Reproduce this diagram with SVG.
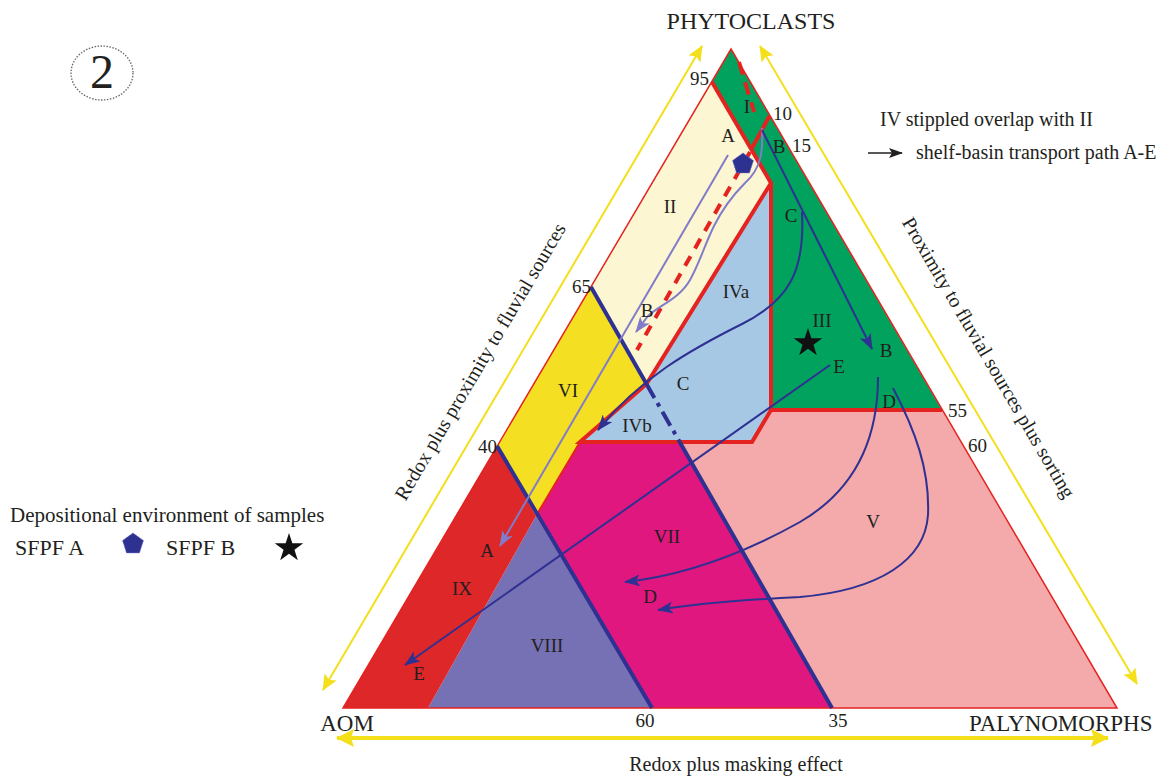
<svg xmlns="http://www.w3.org/2000/svg" width="1164" height="777" viewBox="0 0 1164 777">
<style>
text { font-family: "Liberation Serif", "Times New Roman", serif; fill: #231f20; }
.lbl { font-size: 19px; text-anchor: middle; }
.num { font-size: 19px; }
.ax { font-size: 23px; }
.leg { font-size: 21px; }
.redT { fill: none; stroke: #e42320; stroke-width: 4; stroke-linejoin: miter; }
.redD { fill: none; stroke: #e42320; stroke-width: 4; stroke-dasharray: 11 9; }
.blueT { fill: none; stroke: #2e3192; stroke-width: 4; }
.pth { fill: none; stroke: #2e3192; stroke-width: 2; marker-end: url(#ahB); }
.lpth { fill: none; stroke: #807cc9; stroke-width: 2; marker-end: url(#ahL); }
.yax { fill: none; stroke: #f3df1a; stroke-width: 2; marker-start: url(#ahY); marker-end: url(#ahY); }
.yaxB { fill: none; stroke: #f3df1a; stroke-width: 4; marker-start: url(#ahYB); marker-end: url(#ahYB); }
</style>
<defs>
<marker id="ahB" viewBox="0 0 16 12" refX="15" refY="6" markerWidth="16" markerHeight="12" markerUnits="userSpaceOnUse" orient="auto"><path d="M0,0 L16,6 L0,12 L4,6 Z" fill="#2e3192"/></marker>
<marker id="ahL" viewBox="0 0 16 12" refX="15" refY="6" markerWidth="16" markerHeight="12" markerUnits="userSpaceOnUse" orient="auto"><path d="M0,0 L16,6 L0,12 L4,6 Z" fill="#807cc9"/></marker>
<marker id="ahY" viewBox="0 0 16 14" refX="15" refY="7" markerWidth="16" markerHeight="14" markerUnits="userSpaceOnUse" orient="auto-start-reverse"><path d="M0,0 L16,7 L0,14 L3,7 Z" fill="#f3df1a"/></marker>
<marker id="ahYB" viewBox="0 0 18 18" refX="17" refY="9" markerWidth="18" markerHeight="18" markerUnits="userSpaceOnUse" orient="auto-start-reverse"><path d="M0,0 L18,9 L0,18 L3,9 Z" fill="#f3df1a"/></marker>
<marker id="ahK" viewBox="0 0 14 10" refX="13" refY="5" markerWidth="14" markerHeight="10" markerUnits="userSpaceOnUse" orient="auto"><path d="M0,0 L14,5 L0,10 L3,5 Z" fill="#231f20"/></marker>
<path id="star" d="M0,-15 L3.37,-4.64 L14.27,-4.64 L5.45,1.77 L8.82,12.14 L0,5.73 L-8.82,12.14 L-5.45,1.77 L-14.27,-4.64 L-3.37,-4.64 Z"/>
<path id="penta" d="M0,-11 L10.46,-3.4 L6.47,8.9 L-6.47,8.9 L-10.46,-3.4 Z"/>
</defs>
<rect width="1164" height="777" fill="#ffffff"/>

<g id="badge">
<ellipse cx="102" cy="73" rx="31" ry="27" fill="none" stroke="#666" stroke-width="1.3" stroke-dasharray="1.5 1.5"/>
<text x="102" y="88" style="font-size:48px" text-anchor="middle">2</text>
</g>

<g id="axes">
<line class="yax" x1="323" y1="690" x2="702" y2="46"/>
<line class="yax" x1="760" y1="46" x2="1137" y2="684"/>
<line class="yaxB" x1="337" y1="738" x2="1108" y2="738"/>
<text x="751" y="29" style="font-size:24px" text-anchor="middle">PHYTOCLASTS</text>
<text class="ax" x="347" y="731" text-anchor="middle">AOM</text>
<text class="ax" x="969" y="731">PALYNOMORPHS</text>
<text x="736" y="771" style="font-size:20px" text-anchor="middle">Redox plus masking effect</text>
<text x="486" y="365" style="font-size:20px" text-anchor="middle" transform="rotate(-59.5 486 365)">Redox plus proximity to fluvial sources</text>
<text x="983" y="361" style="font-size:20px" text-anchor="middle" transform="rotate(59.6 983 361)">Proximity to fluvial sources plus sorting</text>
</g>

<g id="region-I-III">
<path d="M731,49 L942,410 L771,410 L771,183 L712,82 Z" fill="#00a25d"/>
<text class="lbl" x="747" y="113">I</text>
<text class="lbl" x="822" y="327">III</text>
<use href="#star" x="808" y="343" fill="#111"/>
</g>
<g id="region-II">
<path d="M712,82 L771,183 L646.5,384 L591,287 Z" fill="#fcf6d3"/>
<text class="lbl" x="670" y="213">II</text>
</g>
<g id="region-IV">
<path d="M771,183 L771,410 L752,442 L580,442 L646.5,384 Z" fill="#a6c8e5"/>
<text class="lbl" x="736" y="298">IVa</text>
<text class="lbl" x="637" y="432">IVb</text>
</g>
<g id="region-VI">
<path d="M591,287 L646.5,384 L580,442 L536,516 L497,446 Z" fill="#f5df22"/>
<text class="lbl" x="568" y="397">VI</text>
</g>
<g id="region-VII">
<path d="M580,442 L679.7,442 L832,708 L652,708 L536,516 Z" fill="#e0177f"/>
<text class="lbl" x="667" y="543">VII</text>
</g>
<g id="region-V">
<path d="M679.7,442 L752,442 L771,410 L942,410 L1117,708 L832,708 Z" fill="#f4a9ab"/>
<text class="lbl" x="873" y="528">V</text>
</g>
<g id="region-VIII">
<path d="M428,708 L536,516 L652,708 Z" fill="#7670b4"/>
<text class="lbl" x="547" y="652">VIII</text>
</g>
<g id="region-IX">
<path d="M497,446 L536,516 L428,708 L343,708 Z" fill="#dd2729"/>
<text class="lbl" x="462" y="595">IX</text>
</g>

<g id="boundaries">
<path d="M731,49 L1117,708 L343,708 Z" fill="none" stroke="#e42320" stroke-width="1.5"/>
<path class="redT" d="M712,82 L771,183 L646.5,384 L580,442 L752,442 L771,410 L942,410"/>
<path class="redT" d="M771,183 L771,410"/>
<path d="M580,442 L536,516" fill="none" stroke="#e42320" stroke-width="2"/>
<path class="redT" d="M769.5,116 L752,148"/>
<path class="redD" d="M750,152 L637,350"/>
<path class="redD" d="M739,62 L754,112" style="stroke-dasharray:13 8"/>
<path class="blueT" d="M591,287 L646.5,384"/>
<path class="blueT" d="M646.5,384 L679.7,442" style="stroke-dasharray:16 6 4 6"/>
<path class="blueT" d="M679.7,442 L832,708"/>
<path class="blueT" d="M497,446 L652,708"/>
</g>

<g id="connectors">
<path class="lpth" d="M728,155 L500,546"/>
<path class="lpth" d="M762,128 C763,150 762,168 745,183 C730,198 722,210 714,226 C705,244 700,262 690,280 C680,298 660,305 648,316 L636,332"/>
<path class="pth" d="M762,130 L872,349"/>
<path class="pth" d="M802,212 C805,270 790,300 742,324 C690,350 640,378 598,430"/>
<path class="pth" d="M830,365 L405,665"/>
<path class="pth" d="M878,377 C878,440 855,490 800,522 C750,550 690,575 625,582"/>
<path class="pth" d="M893,388 C915,430 930,470 928,515 C925,560 880,590 800,597 C740,600 700,603 658,610"/>
</g>

<g id="sample-A">
<use href="#penta" x="743" y="164" fill="#2d3190" stroke="#6d6fc8" stroke-width="1" stroke-dasharray="1 1"/>
</g>

<g id="labels">
<text class="num" x="709" y="85" text-anchor="end">95</text>
<text class="num" x="773" y="120">10</text>
<text class="num" x="792" y="152">15</text>
<text class="num" x="591" y="293" text-anchor="end">65</text>
<text class="num" x="497" y="453" text-anchor="end">40</text>
<text class="num" x="948" y="417">55</text>
<text class="num" x="968" y="452">60</text>
<text class="num" x="645" y="727" text-anchor="middle">60</text>
<text class="num" x="838" y="727" text-anchor="middle">35</text>
<text class="lbl" x="728" y="142">A</text>
<text class="lbl" x="779" y="153">B</text>
<text class="lbl" x="791" y="222">C</text>
<text class="lbl" x="886" y="357">B</text>
<text class="lbl" x="839" y="373">E</text>
<text class="lbl" x="889" y="408">D</text>
<text class="lbl" x="647" y="317">B</text>
<text class="lbl" x="683" y="390">C</text>
<text class="lbl" x="487" y="557">A</text>
<text class="lbl" x="650" y="603">D</text>
<text class="lbl" x="419" y="680">E</text>
</g>

<g id="legend-top">
<text x="880" y="126" style="font-size:20px">IV stippled overlap with II</text>
<line x1="868" y1="153" x2="902" y2="153" stroke="#231f20" stroke-width="1.5" marker-end="url(#ahK)"/>
<text x="916" y="159" style="font-size:20px">shelf-basin transport path A-E</text>
</g>

<g id="legend-samples">
<text class="leg" x="10" y="522">Depositional environment of samples</text>
<text x="15" y="555" style="font-size:22px">SFPF A</text>
<use href="#penta" x="133" y="544" fill="#2d3190" stroke="#6d6fc8" stroke-width="1" stroke-dasharray="1 1"/>
<text x="166" y="555" style="font-size:22px">SFPF B</text>
<use href="#star" x="289" y="548" fill="#111"/>
</g>
</svg>
